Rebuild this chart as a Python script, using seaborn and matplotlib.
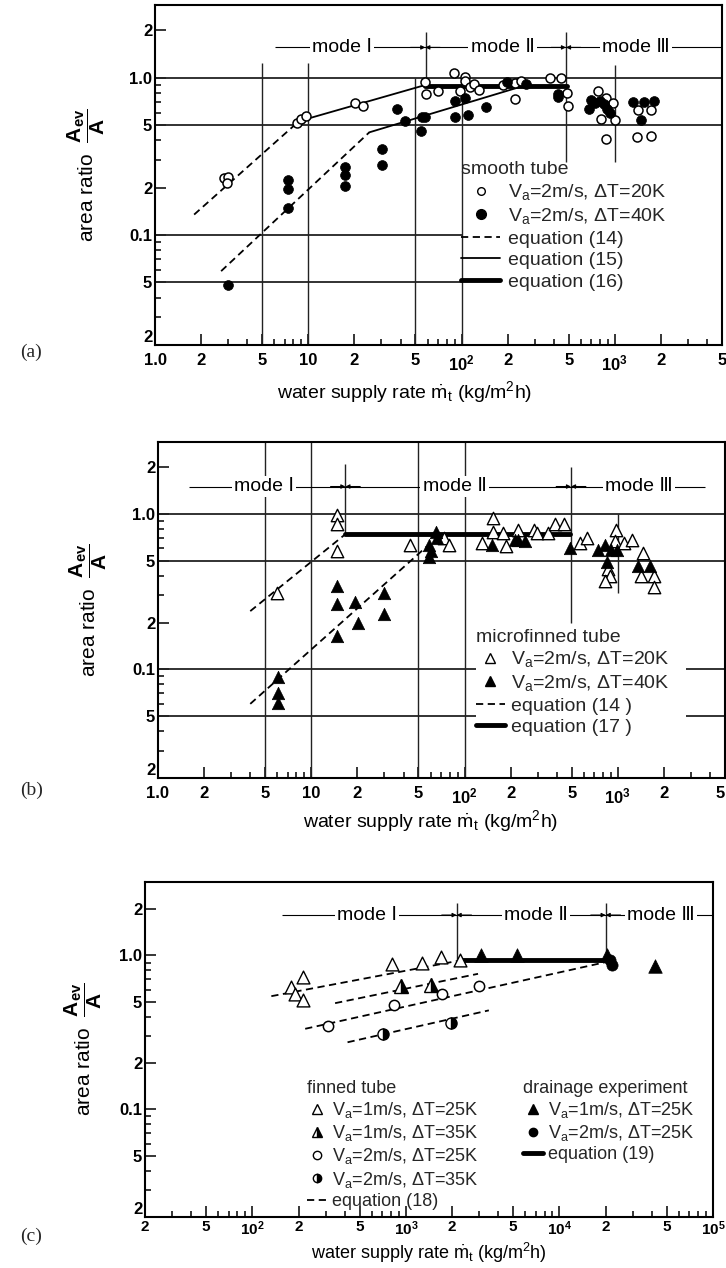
import matplotlib
matplotlib.use("Agg")
import matplotlib.pyplot as plt
from matplotlib.lines import Line2D
from matplotlib.ticker import LogLocator, NullFormatter
import seaborn as sns

# ---------------- (a) smooth tube ----------------
a_open_x = [2.8, 3.0, 2.95, 8.4, 9.0, 9.7, 20.2, 22.8, 58, 59, 70, 89, 97, 106, 106, 114, 121, 129,
            187, 224, 224, 245, 378, 446, 490, 495, 775, 875, 975, 810, 1000, 875, 1410, 1720, 1390, 1720]
a_open_y = [0.23, 0.235, 0.215, 0.515, 0.545, 0.57, 0.69, 0.66, 0.94, 0.79, 0.83, 1.08, 0.83, 1.01, 0.95, 0.87, 0.91, 0.84,
            0.90, 0.73, 0.93, 0.96, 0.99, 1.0, 0.80, 0.66, 0.82, 0.74, 0.695, 0.55, 0.54, 0.41, 0.62, 0.62, 0.42, 0.425]
a_fill_x = [3.0, 7.4, 7.4, 7.4, 17.4, 17.4, 17.4, 30.3, 30.3, 38, 42.6, 54, 55, 58, 91, 91, 106, 110, 145,
            199, 265, 425, 425, 695, 680, 740, 795, 850, 895, 935, 1310, 1560, 1790, 1470]
a_fill_y = [0.048, 0.225, 0.195, 0.148, 0.27, 0.24, 0.206, 0.355, 0.28, 0.63, 0.53, 0.46, 0.565, 0.565, 0.71, 0.565, 0.74, 0.58, 0.65,
            0.94, 0.91, 0.79, 0.75, 0.72, 0.63, 0.69, 0.71, 0.68, 0.63, 0.60, 0.70, 0.70, 0.71, 0.54]
a_eq14_up = ([1.8, 8.7], [0.135, 0.53])
a_eq15_up = ([8.7, 58], [0.53, 0.90])
a_eq14_lo = ([2.7, 25], [0.059, 0.45])
a_eq15_lo = ([25, 265], [0.45, 0.90])
a_eq16 = ([58, 490], [0.89, 0.89])

# ---------------- (b) microfinned tube ----------------
b_open_x = [6.0, 14.8, 14.8, 14.8, 44, 73, 79, 154, 154, 177, 129, 187, 223, 282, 298, 351, 389, 448, 566, 630,
            975, 960, 1100, 1230, 1450, 860, 885, 830, 1420, 1730, 1730]
b_open_y = [0.31, 0.99, 0.86, 0.574, 0.63, 0.70, 0.63, 0.94, 0.77, 0.75, 0.65, 0.62, 0.79, 0.79, 0.75, 0.75, 0.86, 0.86, 0.65, 0.70,
            0.79, 0.665, 0.65, 0.68, 0.56, 0.44, 0.40, 0.37, 0.40, 0.40, 0.34]
b_fill_x = [6.1, 6.1, 6.1, 14.8, 14.8, 14.8, 19.3, 20.2, 29.8, 29.8, 65, 66, 59, 60, 59, 150, 213, 224, 247, 486,
            745, 830, 905, 990, 850, 1350, 1630]
b_fill_y = [0.089, 0.071, 0.061, 0.342, 0.265, 0.164, 0.27, 0.20, 0.31, 0.228, 0.77, 0.70, 0.63, 0.575, 0.53, 0.63, 0.68, 0.68, 0.665, 0.60,
            0.59, 0.63, 0.59, 0.59, 0.49, 0.46, 0.46]
b_eq14_up = ([4.0, 16.4], [0.237, 0.73])
b_eq14_lo = ([4.0, 57], [0.06, 0.62])
b_eq17 = ([16.5, 490], [0.74, 0.74])

# ---------------- (c) finned tube ----------------
c_tri1_x = [213, 179, 190, 213, 818, 1280, 1690, 2240]
c_tri1_y = [0.73, 0.62, 0.56, 0.51, 0.875, 0.89, 0.98, 0.94]
c_tri2_x = [930, 1455]
c_tri2_y = [0.63, 0.64]
c_circ1_x = [310, 840, 1730, 2990]
c_circ1_y = [0.35, 0.48, 0.56, 0.63]
c_circ2_x = [707, 1960]
c_circ2_y = [0.307, 0.365]
c_drain_tri_x = [3070, 5300, 20400, 42000]
c_drain_tri_y = [1.01, 1.01, 1.0, 0.85]
c_drain_circ_x = [21500, 22000]
c_drain_circ_y = [0.93, 0.87]
c_eq18 = [([133, 2150], [0.544, 0.92]),
          ([346, 2950], [0.49, 0.76]),
          ([221, 20000], [0.334, 0.905]),
          ([417, 3470], [0.273, 0.44])]
c_eq19 = ([2300, 20000], [0.93, 0.93])

y_ticks = [0.02, 0.05, 0.1, 0.2, 0.5, 1.0, 2.0]
y_labels = ["2", "5", "0.1", "2", "5", "1.0", "2"]
ab_xticks = [1, 2, 5, 10, 20, 50, 100, 200, 500, 1000, 2000, 5000]
ab_xlabels = ["1.0", "2", "5", "10", "2", "5", r"$\mathbf{10^2}$", "2", "5", r"$\mathbf{10^3}$", "2", "5"]
c_xticks = [20, 50, 100, 200, 500, 1000, 2000, 5000, 1e4, 2e4, 5e4, 1e5]
c_xlabels = ["2", "5", r"$\mathbf{10^2}$", "2", "5", r"$\mathbf{10^3}$", "2", "5", r"$\mathbf{10^4}$", "2", "5", r"$\mathbf{10^5}$"]

sns.set_theme(style="ticks")
plt.rcParams["font.family"] = ["Liberation Sans", "DejaVu Sans"]
plt.rcParams["mathtext.fontset"] = "custom"
plt.rcParams["mathtext.rm"] = "Liberation Sans"
plt.rcParams["mathtext.it"] = "Liberation Sans:italic"
plt.rcParams["mathtext.bf"] = "Liberation Sans:bold"

K = "black"
LBL = 13


def setup(ax, xlim, ylim, xticks, xlabels, xpad=6, xsize=12):
    ax.set_xscale("log")
    ax.set_yscale("log")
    ax.set_xlim(*xlim)
    ax.set_ylim(*ylim)
    ax.set_yticks(y_ticks, y_labels)
    ax.set_xticks(xticks, xlabels)
    ax.yaxis.set_minor_locator(LogLocator(subs=range(2, 10), numticks=20))
    ax.xaxis.set_minor_locator(LogLocator(subs=range(2, 10), numticks=20))
    ax.yaxis.set_minor_formatter(NullFormatter())
    ax.xaxis.set_minor_formatter(NullFormatter())
    ax.tick_params(which="both", direction="in", colors=K, width=1.1, top=False, right=False)
    ax.tick_params(which="major", length=8, labelsize=12)
    ax.tick_params(axis="x", which="major", pad=xpad, labelsize=xsize)
    ax.tick_params(axis="y", which="major", pad=2)
    ax.tick_params(which="minor", length=4.5)
    for lab in ax.get_xticklabels() + ax.get_yticklabels():
        lab.set_fontweight("bold")
    ax.get_yticklabels()[0].set_verticalalignment("bottom")
    for s in ax.spines.values():
        s.set_linewidth(1.5)
        s.set_color(K)
    ax.set_xlabel(r"water supply rate $\dot{\mathrm{m}}_\mathrm{t}$ (kg/m$^2$h)", fontsize=14, color=K)
    ax.set_ylabel(r"area ratio  $\dfrac{\mathbf{A}_\mathbf{ev}}{\mathbf{A}}$", fontsize=15, color=K)


def guides(ax, hl, vl):
    for y, x0, x1 in hl:
        ax.hlines(y, x0, x1, color="#222222", lw=1.3, zorder=1)
    for x, y0, y1 in vl:
        ax.vlines(x, y0, y1, color="#222222", lw=1.0, zorder=1)


def modes(ax, y, x0, x1, bounds, labels):
    ax.hlines(y, x0, x1, color=K, lw=0.8, zorder=2)
    for b in bounds:
        for f in (0.8, 1.25):
            ax.annotate("", xy=(b, y), xytext=(b * f, y),
                        arrowprops=dict(arrowstyle="-|>", color=K, lw=0.8, mutation_scale=6, shrinkA=0, shrinkB=0))
    for lx, name in labels:
        ax.text(lx, y, name, ha="center", va="center", fontsize=14, color=K,
                bbox=dict(fc="white", ec="none", pad=1.5), zorder=3)


def lines(ax, pts, style):
    x, y = pts
    sns.lineplot(x=x, y=y, ax=ax, estimator=None, sort=False, color=K, **style)


dash = dict(lw=1.3, linestyle=(0, (4, 2.5)))
thin = dict(lw=1.3)
thick = dict(lw=3.5)

fig = plt.figure(figsize=(7.26, 12.68), dpi=100)

# ---------- panel a ----------
ax = fig.add_axes([0.2135, 0.7279, 0.781, 0.2681])
setup(ax, (1, 5000), (0.02, 2.9), ab_xticks, ab_xlabels)
guides(ax, [(1.0, 1, 5000), (0.5, 1, 5000), (0.1, 1, 100), (0.05, 1, 100)],
       [(5, 0.02, 1.25), (10, 0.02, 1.25), (50, 0.02, 1.0), (59, 0.95, 1.95), (100, 0.02, 1.0),
        (480, 0.29, 1.95), (1000, 0.29, 1.2)])
modes(ax, 1.56, 6.1, 5000, [58, 480], [(16.6, "mode Ⅰ"), (185, "mode Ⅱ"), (1380, "mode Ⅲ")])
for pts, st in [(a_eq14_up, dash), (a_eq14_lo, dash), (a_eq15_up, thin), (a_eq15_lo, thin), (a_eq16, thick)]:
    lines(ax, pts, st)
sns.scatterplot(x=a_open_x, y=a_open_y, ax=ax, marker="o", s=42, color="white", edgecolor=K, linewidth=1.1, zorder=4)
sns.scatterplot(x=a_fill_x, y=a_fill_y, ax=ax, marker="o", s=50, color=K, edgecolor=K, linewidth=0.5, zorder=4)
h = [Line2D([], [], ls="none", marker="o", ms=5.5, mfc="white", mec=K),
     Line2D([], [], ls="none", marker="o", ms=7, mfc=K, mec=K),
     Line2D([], [], color=K, **dash),
     Line2D([], [], color=K, **thin),
     Line2D([], [], color=K, **thick)]
l = ["$\\mathregular{V_a}$=2m/s, ΔT=20K", "$\\mathregular{V_a}$=2m/s, ΔT=40K",
     "equation (14)", "equation (15)", "equation (16)"]
ax.legend(h, l, title="smooth tube", loc="upper left", bbox_to_anchor=(0.54, 0.54), frameon=False,
          fontsize=LBL + 1, title_fontsize=LBL + 1, alignment="left", handlelength=2.0, handletextpad=0.4,
          labelspacing=0.2, borderpad=0, borderaxespad=0)
ax.xaxis.set_label_coords(0.44, -0.1)
ax.yaxis.set_label_coords(-0.085, 0.5)
fig.text(0.028, 1 - 352 / 1268, "(a)", family="Liberation Serif", fontsize=14, va="center")

# ---------- panel b ----------
ax = fig.add_axes([0.2176, 0.3864, 0.781, 0.265])
setup(ax, (1, 5000), (0.02, 2.9), ab_xticks, ab_xlabels)
ax.get_xticklabels()[-1].set_horizontalalignment("right")
guides(ax, [(1.0, 1, 5000), (0.5, 1, 5000), (0.1, 1, 118), (0.1, 2800, 5000), (0.05, 1, 118), (0.05, 2800, 5000)],
       [(5, 0.02, 2.9), (10, 0.02, 2.9), (16.7, 0.75, 2.1), (50, 0.02, 2.9), (100, 0.02, 2.9),
        (495, 0.2, 2.0), (1000, 0.31, 1.0)])
modes(ax, 1.5, 1.6, 3700, [16.7, 495], [(4.9, "mode Ⅰ"), (86, "mode Ⅱ"), (1380, "mode Ⅲ")])
for pts, st in [(b_eq14_up, dash), (b_eq14_lo, dash), (b_eq17, thick)]:
    lines(ax, pts, st)
sns.scatterplot(x=b_open_x, y=b_open_y, ax=ax, marker="^", s=80, color="white", edgecolor=K, linewidth=1.0, zorder=4)
sns.scatterplot(x=b_fill_x, y=b_fill_y, ax=ax, marker="^", s=80, color=K, edgecolor=K, linewidth=0.5, zorder=4)
h = [Line2D([], [], ls="none", marker="^", ms=7, mfc="white", mec=K),
     Line2D([], [], ls="none", marker="^", ms=7, mfc=K, mec=K),
     Line2D([], [], color=K, **dash),
     Line2D([], [], color=K, **thick)]
l = ["$\\mathregular{V_a}$=2m/s, ΔT=20K", "$\\mathregular{V_a}$=2m/s, ΔT=40K",
     "equation (14 )", "equation (17 )"]
ax.legend(h, l, title="microfinned tube", loc="upper left", bbox_to_anchor=(0.56, 0.445), frameon=False,
          fontsize=LBL + 1, title_fontsize=LBL + 1, alignment="left", handlelength=1.5, handletextpad=0.3,
          labelspacing=0.2, borderpad=0, borderaxespad=0)
ax.xaxis.set_label_coords(0.48, -0.09)
ax.yaxis.set_label_coords(-0.086, 0.5)
fig.text(0.028, 1 - 790 / 1268, "(b)", family="Liberation Serif", fontsize=14, va="center")

# ---------- panel c ----------
ax = fig.add_axes([0.1997, 0.0402, 0.7824, 0.2642])
setup(ax, (20, 1e5), (0.02, 3.0), c_xticks, c_xlabels, xpad=2, xsize=11)
guides(ax, [], [(2140, 0.94, 2.2), (20000, 0.95, 2.2)])
modes(ax, 1.83, 156, 1e5, [2140, 20000], [(561, "mode Ⅰ"), (7000, "mode Ⅱ"), (46000, "mode Ⅲ")])
for pts in c_eq18:
    lines(ax, pts, dash)
lines(ax, c_eq19, thick)
sns.scatterplot(x=c_tri1_x, y=c_tri1_y, ax=ax, marker="^", s=85, color="white", edgecolor=K, linewidth=1.0, zorder=4)
ax.plot(c_tri2_x, c_tri2_y, ls="none", marker="^", ms=9.5, fillstyle="right", mfc=K, mfcalt="white", mec=K, zorder=4)
sns.scatterplot(x=c_circ1_x, y=c_circ1_y, ax=ax, marker="o", s=55, color="white", edgecolor=K, linewidth=1.1, zorder=4)
ax.plot(c_circ2_x, c_circ2_y, ls="none", marker="o", ms=8, fillstyle="right", mfc=K, mfcalt="white", mec=K, zorder=4)
sns.scatterplot(x=c_drain_tri_x, y=c_drain_tri_y, ax=ax, marker="^", s=95, color=K, edgecolor=K, linewidth=0.5, zorder=4)
sns.scatterplot(x=c_drain_circ_x, y=c_drain_circ_y, ax=ax, marker="o", s=65, color=K, edgecolor=K, linewidth=0.5, zorder=4)
h = [Line2D([], [], ls="none", marker="^", ms=7, mfc="white", mec=K),
     Line2D([], [], ls="none", marker="^", ms=7, fillstyle="right", mfc=K, mfcalt="white", mec=K),
     Line2D([], [], ls="none", marker="o", ms=6, mfc="white", mec=K),
     Line2D([], [], ls="none", marker="o", ms=6, fillstyle="right", mfc=K, mfcalt="white", mec=K),
     Line2D([], [], color=K, **dash)]
l = ["$\\mathregular{V_a}$=1m/s, ΔT=25K", "$\\mathregular{V_a}$=1m/s, ΔT=35K",
     "$\\mathregular{V_a}$=2m/s, ΔT=25K", "$\\mathregular{V_a}$=2m/s, ΔT=35K", "equation (18)"]
leg = ax.legend(h, l, title="finned tube", loc="upper left", bbox_to_anchor=(0.285, 0.41), frameon=False,
                fontsize=LBL, title_fontsize=LBL, alignment="left", handlelength=1.1, handletextpad=0.3,
                labelspacing=0.18, borderpad=0, borderaxespad=0)
ax.add_artist(leg)
h = [Line2D([], [], ls="none", marker="^", ms=7, mfc=K, mec=K),
     Line2D([], [], ls="none", marker="o", ms=6, mfc=K, mec=K),
     Line2D([], [], color=K, **thick)]
l = ["$\\mathregular{V_a}$=1m/s, ΔT=25K", "$\\mathregular{V_a}$=2m/s, ΔT=25K", "equation (19)"]
ax.legend(h, l, title="drainage experiment", loc="upper left", bbox_to_anchor=(0.665, 0.41), frameon=False,
          fontsize=LBL, title_fontsize=LBL, alignment="left", handlelength=1.1, handletextpad=0.3,
          labelspacing=0.18, borderpad=0, borderaxespad=0)
ax.xaxis.set_label_coords(0.5, -0.072)
ax.xaxis.label.set_fontsize(13)
ax.yaxis.set_label_coords(-0.072, 0.5)
fig.text(0.028, 1 - 1236 / 1268, "(c)", family="Liberation Serif", fontsize=14, va="center")

fig.savefig("out.png", dpi=100)
